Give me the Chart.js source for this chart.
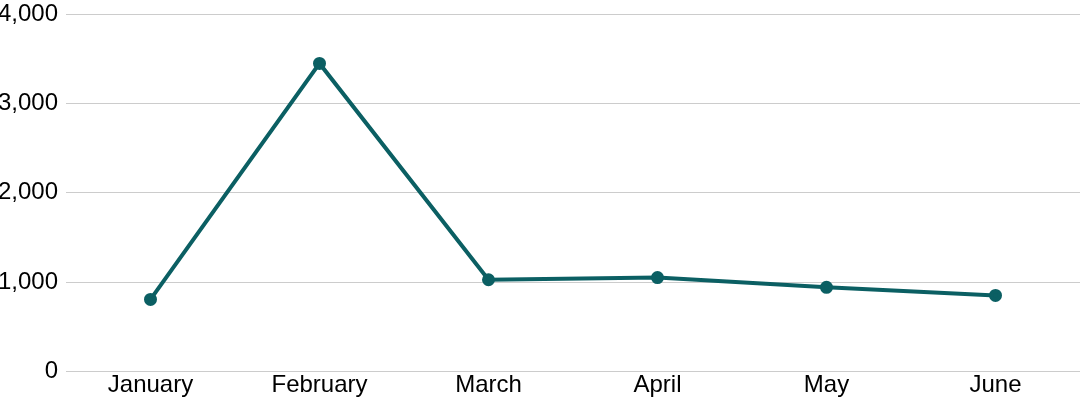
<!DOCTYPE html>
<html>
<head>
<meta charset="utf-8">
<script src="https://cdn.jsdelivr.net/npm/chart.js@4"></script>
<style>
  html, body { margin: 0; padding: 0; background: #fff; }
  #wrap { width: 1080px; height: 400px; }
</style>
</head>
<body>
<div id="wrap"><canvas id="myChart"></canvas></div>
<script>
// monthly values
var months = ["January", "February", "March", "April", "May", "June"];
var values = [805, 3450, 1025, 1050, 940, 850];
var yTicks = [0, 1000, 2000, 3000, 4000];

Chart.defaults.font.family = "'Liberation Sans', Arial, sans-serif";
Chart.defaults.font.size = 24;
Chart.defaults.color = "#000";

var ctx = document.getElementById("myChart");
var lineChart = new Chart(ctx, {
	type: "line",
	data: {
		labels: months,
		datasets: [
			{
				data: values,
				borderColor: "#0b5f63",
				backgroundColor: "#0b5f63",
				borderWidth: 4,
				pointRadius: 4.5,
				pointHoverRadius: 5,
				tension: 0,
			},
		],
	},
	options: {
		responsive: true,
		maintainAspectRatio: false,
		animation: false,
		layout: { autoPadding: false, padding: 0 },
		plugins: {
			legend: { display: false },
			tooltip: { enabled: false },
		},
		scales: {
			x: {
				offset: true,
				grid: { display: false, drawTicks: false },
				border: { display: false },
				ticks: { padding: 0, maxRotation: 0 },
			},
			y: {
				min: 0,
				max: 4000,
				afterBuildTicks: function (axis) {
					axis.ticks = yTicks.map(function (v) { return { value: v }; });
				},
				afterFit: function (axis) { axis.width = 66; },
				// invisible tick marks keep the labels 8px off the grid
				grid: { color: "#cccccc", drawTicks: true, tickLength: 8, tickColor: "rgba(0,0,0,0)", lineWidth: 1 },
				border: { display: false },
				ticks: {
					padding: 0,
					callback: function (v) { return v.toLocaleString("en-US"); },
				},
			},
		},
	},
});
</script>
</body>
</html>
